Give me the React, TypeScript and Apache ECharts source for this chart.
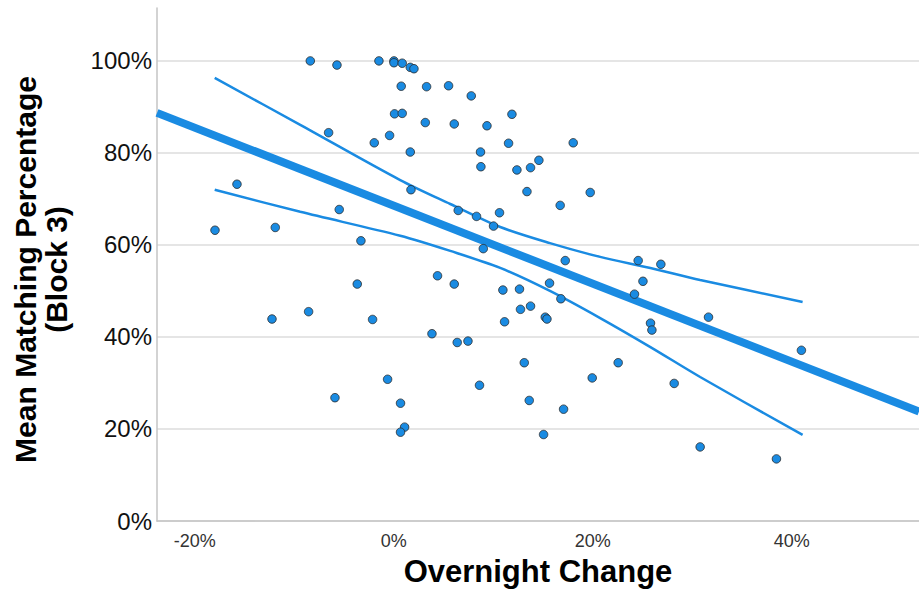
import React, { useEffect, useRef } from "react";
import * as echarts from "echarts";

// Scatter data: Overnight Change (%) vs Mean Matching Percentage (Block 3) (%)
const overnightChange = [
  -8.39, -5.71, -1.49, 0.02, 0.02, 0.85, 1.66, 2.03, 0.75, 3.3, 5.51, 7.79,
  0.08, 0.85, 3.17, -6.55, -1.96, -0.42, 1.66, -15.76, 1.73, -5.48, -17.97,
  -11.91, -3.3, 6.08, 9.37, 11.88, 11.54, 18.04, 8.72, 8.76, 12.38, 13.75,
  14.59, 13.39, 19.75, 6.48, 8.32, 10.63, 10.03, 16.73, 9.0, 17.24, 24.57,
  26.85, 4.4, -3.67, -8.56, -12.24, -2.13, 3.84, -0.62, -5.91, 0.68, 1.09,
  0.68, 6.08, 10.97, 12.64, 15.66, 16.8, 12.74, 13.75, 25.05, 24.2, 11.14,
  15.23, 15.4, 25.81, 25.95, 31.64, 40.98, 6.38, 7.46, 13.12, 22.56, 8.62,
  19.95, 28.19, 13.62, 17.07, 15.06, 30.8, 38.47,
];
const matchingPct = [
  100, 99.1, 100, 100, 99.6, 99.5, 98.6, 98.3, 94.5, 94.4, 94.6, 92.4, 88.5,
  88.6, 86.6, 84.4, 82.2, 83.8, 80.2, 73.2, 72.0, 67.7, 63.2, 63.8, 60.9,
  86.3, 85.9, 88.4, 82.1, 82.2, 80.2, 77.0, 76.3, 76.8, 78.4, 71.6, 71.4,
  67.5, 66.2, 67.0, 64.1, 68.6, 59.2, 56.6, 56.6, 55.8, 53.3, 51.5, 45.5,
  43.9, 43.8, 40.7, 30.8, 26.8, 25.6, 20.4, 19.3, 51.5, 50.2, 50.4, 51.7,
  48.3, 46.0, 46.7, 52.1, 49.3, 43.3, 44.3, 43.9, 43.0, 41.5, 44.3, 37.1,
  38.8, 39.1, 34.4, 34.4, 29.5, 31.1, 29.9, 26.2, 24.3, 18.8, 16.1, 13.5,
];

// Fit line (endpoints)
const fitX = [-23.8, 52.8];
const fitY = [88.7, 23.8];

// Confidence interval curves
const ciX = [-18.0, -9.4, 0.65, 5.68, 10.7, 15.7, 20.75, 25.8, 30.8, 41.1];
const ciUpperY = [96.3, 86.1, 74.1, 68.9, 63.9, 60.4, 57.4, 55.0, 52.4, 47.6];
const ciLowerY = [72.0, 67.2, 62.0, 58.7, 55.0, 50.0, 44.1, 37.8, 31.3, 18.7];

// Axis tick labels
const xTicks = [-20, 0, 20, 40];
const yTicks = [0, 20, 40, 60, 80, 100];

const BLUE = "#1a8be2";

export default function App() {
  const ref = useRef<HTMLDivElement>(null);
  useEffect(() => {
    document.body.style.margin = "0";
    const chart = echarts.init(ref.current!, null, { renderer: "svg" });
    const pts = overnightChange.map((x, i) => [x, matchingPct[i]]);
    const fit = fitX.map((x, i) => [x, fitY[i]]);
    const up = ciX.map((x, i) => [x, ciUpperY[i]]);
    const lo = ciX.map((x, i) => [x, ciLowerY[i]]);
    chart.setOption({
      animation: false,
      backgroundColor: "#ffffff",
      grid: {
        left: 157,
        right: 0,
        top: 8,
        bottom: 72,
        containLabel: false,
        outerBoundsMode: "none",
      },
      xAxis: {
        type: "value",
        min: -23.8,
        max: 52.8,
        name: "Overnight Change",
        nameLocation: "middle",
        nameGap: 35,
        nameTextStyle: {
          fontFamily: "Liberation Sans, Arial, sans-serif",
          fontWeight: "bold",
          fontSize: 31,
          color: "#000",
        },
        axisLine: { show: true, onZero: false, lineStyle: { color: "#c4c4c4", width: 1.5 } },
        axisTick: { show: false },
        splitLine: { show: false },
        axisLabel: {
          customValues: xTicks,
          formatter: (v: number) => `${v}%`,
          fontFamily: "Liberation Sans, Arial, sans-serif",
          fontSize: 18,
          color: "#333",
          margin: 11,
        },
      },
      yAxis: {
        type: "value",
        min: 0,
        max: 111.5,
        interval: 20,
        name: "Mean Matching Percentage\n(Block 3)",
        nameLocation: "middle",
        nameGap: 85,
        nameRotate: 90,
        nameTextStyle: {
          fontFamily: "Liberation Sans, Arial, sans-serif",
          fontWeight: "bold",
          fontSize: 30,
          color: "#000",
          lineHeight: 31,
          align: "center",
          padding: [0, 10, 0, 0],
        },
        axisLine: { show: true, onZero: false, lineStyle: { color: "#c4c4c4", width: 1.5 } },
        axisTick: { show: false },
        splitLine: {
          show: true,
          showMaxLine: false,
          lineStyle: { color: "#dcdcdc", width: 1.5 },
        },
        axisLabel: {
          customValues: yTicks,
          formatter: (v: number) => `${v}%`,
          fontFamily: "Liberation Sans, Arial, sans-serif",
          fontSize: 24,
          color: "#111",
          margin: 5,
        },
      },
      series: [
        {
          type: "line",
          data: fit,
          symbol: "none",
          lineStyle: { color: BLUE, width: 8 },
          z: 3,
        },
        {
          type: "line",
          data: up,
          symbol: "none",
          smooth: 0.3,
          lineStyle: { color: BLUE, width: 2.5 },
          z: 3,
        },
        {
          type: "line",
          data: lo,
          symbol: "none",
          smooth: 0.3,
          lineStyle: { color: BLUE, width: 2.5 },
          z: 3,
        },
        {
          type: "scatter",
          data: pts,
          symbol: "circle",
          symbolSize: 8.5,
          itemStyle: { color: BLUE, opacity: 1, borderColor: "#2a2a2a", borderWidth: 0.8 },
          z: 4,
        },
      ],
    });
    return () => chart.dispose();
  }, []);
  return (
    <div
      ref={ref}
      style={{ position: "fixed", left: 0, top: 0, width: 919, height: 593 }}
    />
  );
}
